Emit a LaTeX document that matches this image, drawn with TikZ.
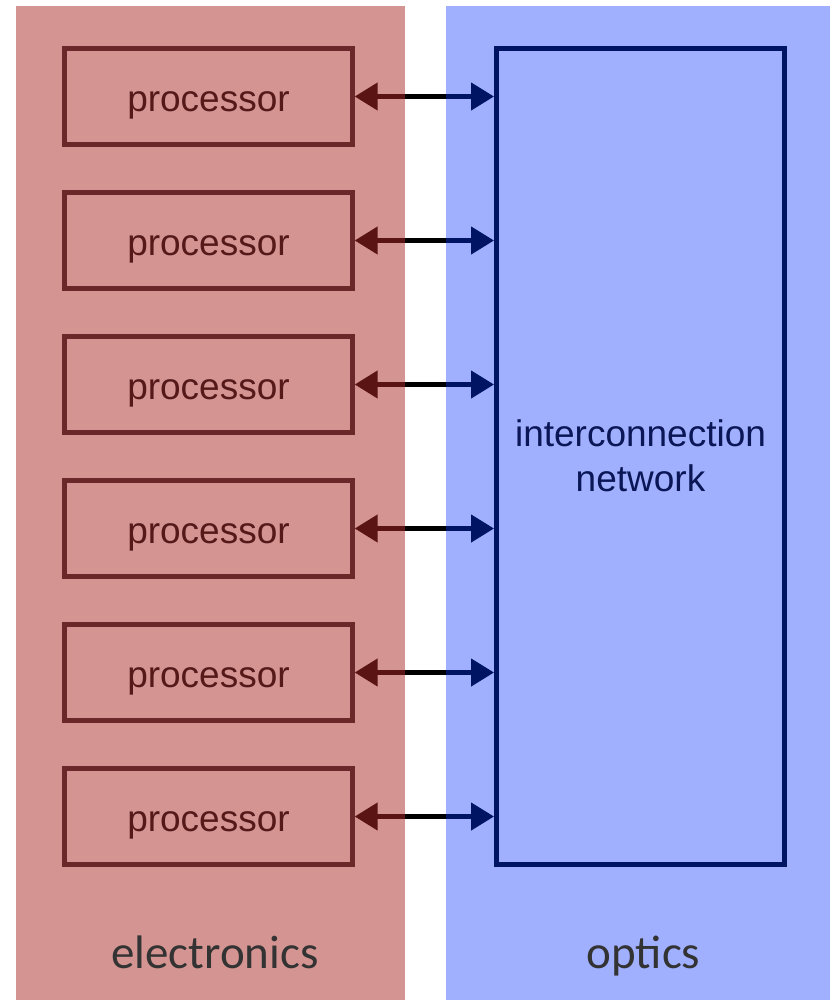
\documentclass[tikz,border=0pt]{standalone}
\usepackage{fontspec}
\setmainfont{Liberation Sans}
\newfontfamily\labelfont{Carlito}
\usetikzlibrary{arrows.meta,positioning}
\definecolor{elecbg}{RGB}{212,148,145}
\definecolor{optbg}{RGB}{160,176,255}
\definecolor{procline}{RGB}{107,40,40}
\definecolor{proctext}{RGB}{85,25,25}
\definecolor{proctip}{RGB}{90,20,20}
\definecolor{netline}{RGB}{0,20,100}
\definecolor{nettext}{RGB}{10,22,85}
\definecolor{labeltext}{RGB}{51,51,51}
\tikzset{
 panel/.style={fill=#1,minimum height=497pt,inner sep=0pt,outer sep=0pt},
 procbox/.style={draw=procline,line width=2.25pt,minimum width=144pt,minimum height=48pt,outer sep=0pt,
   text=proctext,font=\fontsize{18.5}{22}\selectfont,text height=18pt,text depth=3pt},
 netbox/.style={draw=netline,line width=2.5pt,minimum width=144pt,minimum height=408pt,outer sep=0pt,
   text=nettext,align=center,font=\fontsize{18.5}{22.5}\selectfont},
 panellabel/.style={anchor=base,text=labeltext,font=\labelfont\fontsize{23.5}{28}\selectfont,inner sep=0pt},
 link/.style={line width=2.3pt}
}
\begin{document}
\begin{tikzpicture}[x=0.5pt,y=-0.5pt]
\useasboundingbox (0,0) rectangle (830,1000);
\node[panel=elecbg,minimum width=194.5pt] (elec) at (210.5,503) {};
\node[panel=optbg,minimum width=192pt] (opt) at (638,503) {};
\node[panellabel] (elecname) at (215,968) {electronics};
\node[panellabel] (optname) at (643.5,968) {optics};
\node[netbox,text depth=1pt] (net) at (640.5,456.5) {interconnection\\network};
\coordinate (p0) at (208.5,0.5);
\foreach \i [evaluate=\i as \j using int(\i-1)] in {1,...,6}{
 \node at(p\j.south)[procbox,anchor=north,yshift=-24pt](p\i){processor};
 \draw[link,draw=proctip,{Triangle[length=11.5pt,width=13.5pt]}-,shorten <=1.1pt] (p\i.east) -- (p\i.east -| elec.east);
 \draw[link,draw=black] (p\i.east -| elec.east) -- (p\i.east -| opt.west);
 \draw[link,draw=netline,-{Triangle[length=11.5pt,width=13.5pt]},shorten >=1.25pt] (p\i.east -| opt.west) -- (p\i.east -| net.west);
}
\end{tikzpicture}
\end{document}
